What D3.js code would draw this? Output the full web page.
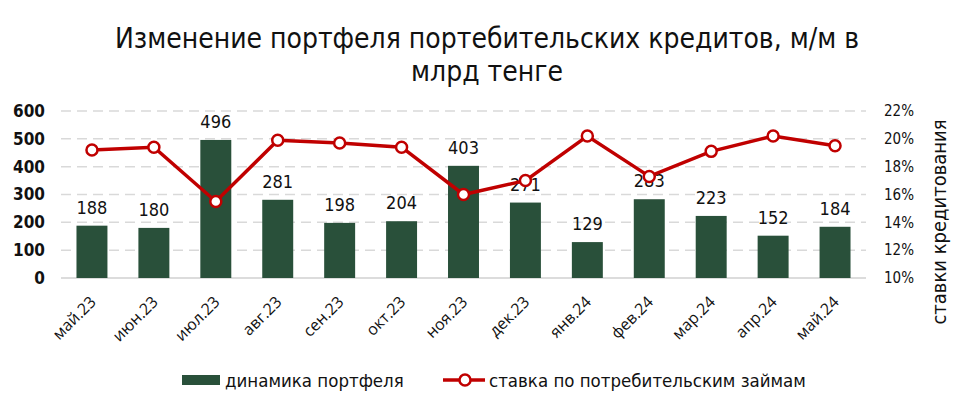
<!DOCTYPE html>
<html><head><meta charset="utf-8">
<script src="https://cdn.jsdelivr.net/npm/d3@7"></script>
<style>body{margin:0;background:#fff}svg{display:block}</style>
</head><body>
<svg id="c" width="974" height="410"></svg>
<script>
const categories = ["май.23","июн.23","июл.23","авг.23","сен.23","окт.23","ноя.23","дек.23","янв.24","фев.24","мар.24","апр.24","май.24"];
const portfolio = [188,180,496,281,198,204,403,271,129,283,223,152,184];
const rate = [19.2,19.4,15.5,19.9,19.7,19.4,16.0,17.0,20.2,17.3,19.1,20.2,19.5];
const leftTicks = [0,100,200,300,400,500,600];
const rightTicks = [10,12,14,16,18,20,22];
const titleLines = ["Изменение портфеля портебительских кредитов, м/м в","млрд тенге"];
const seriesNames = ["динамика портфеля","ставка по потребительским займам"];
const rightTitle = "ставки кредитования";

const font = "'DejaVu Sans Condensed','DejaVu Sans',sans-serif";
const xfont = "'Open Sans','DejaVu Sans',sans-serif";
const svg = d3.select("#c");
const W = 974, H = 410;
const m = {l:61, r:108, t:111, b:132};
const x = d3.scaleBand().domain(categories).range([m.l, W-m.r]).paddingInner(0.5).paddingOuter(0.25);
const y = d3.scaleLinear().domain([0,600]).range([H-m.b, m.t]);
const y2 = d3.scaleLinear().domain([10,22]).range([H-m.b, m.t]);

// title
svg.append("g").selectAll("text").data(titleLines).join("text")
  .attr("x", 487).attr("y",(d,i)=>48+i*33).attr("text-anchor","middle")
  .attr("font-family",font).attr("font-size",28).attr("fill","#111").text(d=>d);

// grid
svg.append("g").selectAll("line").data(leftTicks.filter(d=>d>0)).join("line")
  .attr("x1",m.l).attr("x2",W-m.r).attr("y1",d=>y(d)).attr("y2",d=>y(d))
  .attr("stroke","#d9d9d9").attr("stroke-width",1.5).attr("stroke-dasharray","10,6");
svg.append("line").attr("x1",m.l).attr("x2",W-m.r).attr("y1",y(0)).attr("y2",y(0))
  .attr("stroke","#d0d0d0").attr("stroke-width",1.5);

// left axis
const la = svg.append("g").attr("transform",`translate(${m.l-16},0)`)
  .call(d3.axisLeft(y).tickValues(leftTicks).tickSize(0).tickPadding(0));
la.select(".domain").remove();
la.selectAll("text").attr("font-family",font).attr("font-size",17).attr("font-weight","bold").attr("fill","#111");

// right axis
const ra = svg.append("g").attr("transform",`translate(884,0)`)
  .call(d3.axisRight(y2).tickValues(rightTicks).tickSize(0).tickPadding(0).tickFormat(d=>d+"%"));
ra.select(".domain").remove();
ra.selectAll("text").attr("font-family",font).attr("font-size",15).attr("fill","#111");

svg.append("text").attr("transform",`translate(946,222) rotate(-90)`).attr("text-anchor","middle")
  .attr("font-family",font).attr("font-size",20).attr("fill","#111").text(rightTitle);

// x axis
const xa = svg.append("g").attr("transform",`translate(0,${H-m.b+6})`)
  .call(d3.axisBottom(x).tickSize(0).tickPadding(0));
xa.select(".domain").remove();
xa.selectAll("text").attr("font-family",xfont).attr("font-size",16).attr("fill","#111")
  .attr("text-anchor","end").attr("dy","0.35em").attr("transform","translate(1,15) rotate(-45)");

// bars
const barColor = "#29503a";
svg.append("g").selectAll("rect").data(portfolio).join("rect")
  .attr("x",(d,i)=>x(categories[i])).attr("width",x.bandwidth())
  .attr("y",d=>y(d)).attr("height",d=>y(0)-y(d)).attr("fill",barColor);
svg.append("g").selectAll("text").data(portfolio).join("text")
  .attr("x",(d,i)=>x(categories[i])+x.bandwidth()/2).attr("y",d=>y(d)-12)
  .attr("text-anchor","middle").attr("font-family",font).attr("font-size",18).attr("fill","#111").text(d=>d);

// line
const lineColor = "#c00000";
const line = d3.line().x((d,i)=>x(categories[i])+x.bandwidth()/2).y(d=>y2(d));
svg.append("path").datum(rate).attr("d",line).attr("fill","none").attr("stroke",lineColor).attr("stroke-width",3.5);
svg.append("g").selectAll("circle").data(rate).join("circle")
  .attr("cx",(d,i)=>x(categories[i])+x.bandwidth()/2).attr("cy",d=>y2(d)).attr("r",5.5)
  .attr("fill","#fff").attr("stroke",lineColor).attr("stroke-width",2.5);

// legend
const lg = svg.append("g");
lg.append("rect").attr("x",182).attr("y",375).attr("width",38).attr("height",10).attr("fill",barColor);
lg.append("text").attr("x",225).attr("y",387).attr("font-family",font).attr("font-size",18.5).attr("fill","#111").text(seriesNames[0]);
lg.append("line").attr("x1",443).attr("x2",485).attr("y1",380).attr("y2",380).attr("stroke",lineColor).attr("stroke-width",3.5);
lg.append("circle").attr("cx",465).attr("cy",380).attr("r",5.5).attr("fill","#fff").attr("stroke",lineColor).attr("stroke-width",2.5);
lg.append("text").attr("x",489).attr("y",387).attr("font-family",font).attr("font-size",18.5).attr("fill","#111").text(seriesNames[1]);
</script>
</body></html>
